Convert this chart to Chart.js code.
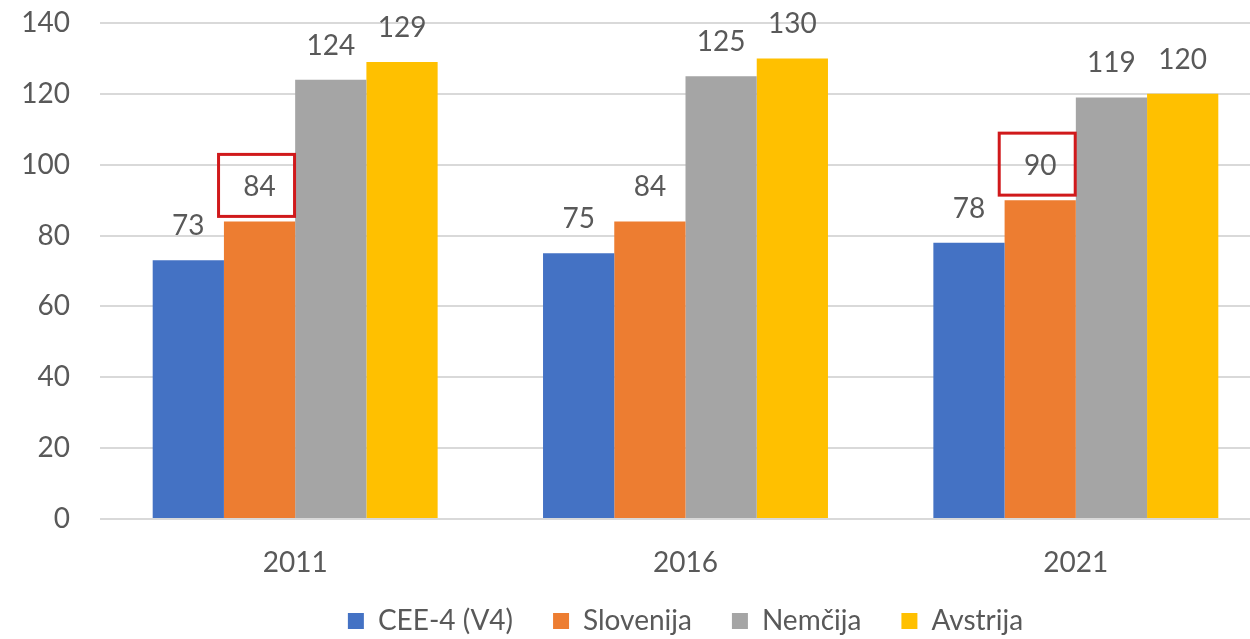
<!DOCTYPE html>
<html>
<head>
<meta charset="utf-8">
<script src="https://cdn.jsdelivr.net/npm/chart.js@4"></script>
<style>
  html, body { margin: 0; padding: 0; overflow: hidden; background: #fff; }
</style>
</head>
<body>
<canvas id="chart" width="1275" height="645"></canvas>
<script>
const years = ["2011", "2016", "2021"];
const seriesNames = ["CEE-4 (V4)", "Slovenija", "Nemčija", "Avstrija"];
const cee4 = [73, 75, 78];
const slovenija = [84, 84, 90];
const nemcija = [124, 125, 119];
const avstrija = [129, 130, 120];
const yTicks = [0, 20, 40, 60, 80, 100, 120, 140];
// labels framed in red: [series, year index]
const highlighted = [[1, 0], [1, 2]];

const textColor = "#595959";
const font = { family: "Lato", size: 28 };

// value labels above the bars + the red frames
const barLabels = {
  id: "barLabels",
  afterDatasetsDraw(chart) {
    const ctx = chart.ctx;
    ctx.save();
    ctx.font = "28px Lato";
    ctx.fillStyle = textColor;
    ctx.textAlign = "center";
    ctx.textBaseline = "alphabetic";
    chart.data.datasets.forEach(function (ds, i) {
      chart.getDatasetMeta(i).data.forEach(function (bar, j) {
        ctx.fillText(ds.data[j], bar.x, bar.y - 25);
      });
    });
    ctx.strokeStyle = "#d0191b";
    ctx.lineWidth = 3;
    highlighted.forEach(function (h) {
      const bar = chart.getDatasetMeta(h[0]).data[h[1]];
      ctx.strokeRect(bar.x - 41, bar.y - 67, 76, 62);
    });
    ctx.restore();
  }
};

// legend in the original sits a bit right of centre;
// x axis box is stretched so its labels are not clipped by the legend gap
const layoutTweak = {
  id: "layoutTweak",
  afterLayout(chart) {
    chart.legend.left += 50;
    chart.legend.right += 50;
    chart.scales.x.bottom += 30;
  }
};

new Chart(document.getElementById("chart").getContext("2d"), {
  type: "bar",
  data: {
    labels: years,
    datasets: [
      { label: seriesNames[0], data: cee4, backgroundColor: "#4472c4" },
      { label: seriesNames[1], data: slovenija, backgroundColor: "#ed7d31" },
      { label: seriesNames[2], data: nemcija, backgroundColor: "#a5a5a5" },
      { label: seriesNames[3], data: avstrija, backgroundColor: "#ffc000" },
    ],
  },
  options: {
    responsive: false,
    animation: false,
    datasets: {
      bar: { barPercentage: 1, categoryPercentage: 0.73 }
    },
    layout: { padding: { top: 23, right: 4, left: 0, bottom: 0 } },
    scales: {
      y: {
        min: 0,
        max: 140,
        afterBuildTicks(s) { s.ticks = yTicks.map(v => ({ value: v })); },
        afterFit(s) {
          s.width = 100;
          s.paddingTop = 0;
          s.paddingBottom = 0;
        },
        ticks: { padding: 30, color: textColor, font: font },
        grid: { color: "#d9d9d9", lineWidth: 2, drawTicks: false },
        border: { display: false },
      },
      x: {
        afterFit(s) { s.height = 48; },
        ticks: { padding: 27, color: textColor, font: font },
        grid: { display: false, drawTicks: false },
        border: { display: false },
      },
    },
    plugins: {
      tooltip: { enabled: false },
      legend: {
        position: "bottom",
        labels: {
          boxWidth: 16,
          boxHeight: 16,
          padding: 40,
          color: textColor,
          font: font,
        },
      },
    },
  },
  plugins: [barLabels, layoutTweak],
});
</script>
</body>
</html>
